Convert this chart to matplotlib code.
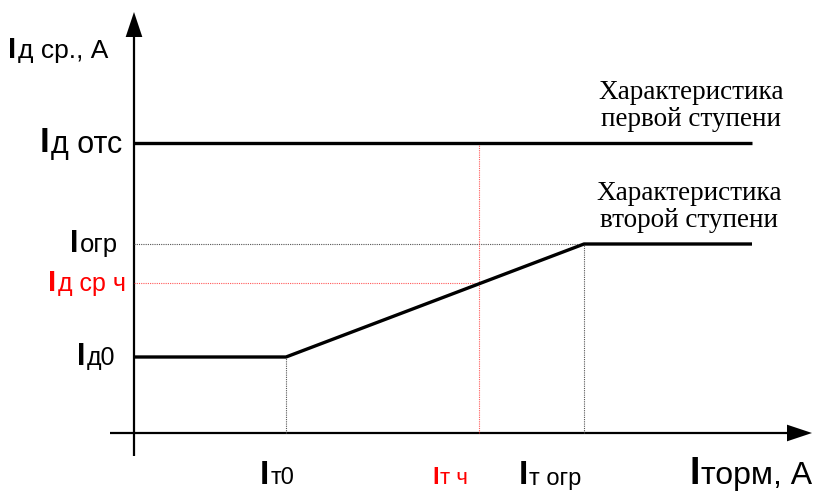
import matplotlib
matplotlib.use("Agg")
import matplotlib.pyplot as plt
from matplotlib.offsetbox import TextArea, HPacker, AnnotationBbox

# characteristic points (units from the axis origin)
it0 = 152        # I т0
itch = 345       # I т ч
itogr = 450      # I т огр
x_end = 618      # end of the characteristic lines
id0 = 76         # I д0
idsrch = 150     # I д ср ч
iogr = 189       # I огр
idots = 290      # I д отс

# second stage: flat, slope, flat
stage2_x = [0, it0, itogr, x_end]
stage2_y = [id0, id0, iogr, iogr]

W, H = 815, 492
ox, oy = 134, 433

fig = plt.figure(figsize=(W / 100, H / 100), dpi=100)
ax = fig.add_axes([0, 0, 1, 1])
ax.set_xlim(-ox, W - ox)
ax.set_ylim(-(H - oy), oy)
ax.axis('off')

# axes with arrows
ax.plot([0, 0], [-23, 400], color='black', lw=1.6, solid_capstyle='butt')
ax.plot([-24, 660], [0, 0], color='black', lw=1.6, solid_capstyle='butt')
arrow = dict(arrowstyle='-|>,head_length=0.9,head_width=0.3', color='black',
             lw=0, mutation_scale=20, shrinkA=0, shrinkB=0)
ax.annotate('', xy=(0, 421), xytext=(0, 380), arrowprops=arrow)
ax.annotate('', xy=(678, 0), xytext=(640, 0), arrowprops=arrow)

dot = (0, (1, 1))
# helper lines
ax.plot([0, itogr], [iogr, iogr], color='#555555', lw=0.8, ls=dot)
ax.plot([it0, it0], [0, id0], color='#555555', lw=0.8, ls=dot)
ax.plot([itogr, itogr], [0, iogr], color='#555555', lw=0.8, ls=dot)
ax.plot([0, itch], [idsrch, idsrch], color='#ff3030', lw=0.8, ls=dot, alpha=0.8)
ax.plot([itch, itch], [0, idots], color='#ff3030', lw=0.8, ls=dot, alpha=0.8)

# characteristics
ax.plot([0, x_end], [idots, idots], color='black', lw=2.4, solid_capstyle='butt')
ax.plot(stage2_x, stage2_y, color='black', lw=2.4, solid_capstyle='butt')

serif = dict(family='Liberation Serif', size=19.5, ha='center', va='center',
             linespacing=1.1)
ax.text(691 - ox, oy - 106, 'Характеристика\nпервой ступени', **serif)
ax.text(689 - ox, oy - 207, 'Характеристика\nвторой ступени', **serif)


def label(x, y, rest, big=20, small=17, color='black', align=(1, 0.5)):
    i_part = TextArea('I', textprops=dict(family='Liberation Sans', size=big,
                                          weight='bold', color=color))
    r_part = TextArea(rest, textprops=dict(family='Liberation Sans', size=small,
                                           color=color))
    box = HPacker(children=[i_part, r_part], align='baseline', pad=0, sep=1)
    ab = AnnotationBbox(box, (x, y), xycoords='data', box_alignment=align,
                        frameon=False, pad=0)
    ax.add_artist(ab)


# y labels
label(-12, idots, 'д отс', big=25, small=22)
label(-16, iogr, 'огр', big=22, small=18.5)
label(-8, idsrch, 'д ср ч', big=21, small=18, color='red')
label(-19, id0, 'д0', big=22, small=18)
label(108 - ox, oy - 50, 'д ср., А', big=21, small=19)

# x labels
label(277 - ox, -43, 'т0', big=24, small=17, align=(0.5, 0.5))
label(450 - ox, -45, 'т ч', big=17, small=16, color='red', align=(0.5, 0.5))
label(550 - ox, -43, 'т огр', big=24, small=17, align=(0.5, 0.5))
label(812 - ox, -41, 'торм, А', big=27, small=23, align=(1, 0.5))

fig.savefig('out.png', dpi=100)
